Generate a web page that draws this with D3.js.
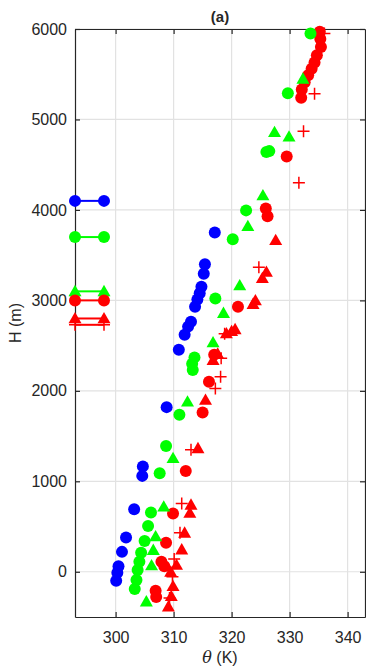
<!DOCTYPE html>
<html>
<head>
<meta charset="utf-8">
<script src="https://cdn.jsdelivr.net/npm/d3@7"></script>
<style>
  html, body { margin: 0; padding: 0; background: #fff; }
  svg { display: block; }
  text { font-family: "Liberation Sans", Arial, sans-serif; fill: #262626; }
</style>
</head>
<body>
<div id="chart"></div>
<script>
// Potential temperature profiles (theta in K, height H in m)
const blueCircles = [
  [300.1,-100],[300.3,-10],[300.5,60],[301.1,220],[301.8,380],[303.2,690],
  [304.6,1060],[304.7,1165],[308.8,1820],[310.9,2455],[311.9,2620],[312.5,2710],
  [313.0,2765],[313.7,2930],[314.1,3010],[314.5,3080],[314.8,3150],[315.2,3295],
  [315.4,3400],[317.1,3750]
];
const greenCircles = [
  [303.3,-190],[303.6,-90],[303.8,20],[304.1,110],[304.4,210],[305.0,340],
  [305.6,505],[306.1,655],[307.6,1090],[308.7,1390],[311.0,1735],[313.3,2230],
  [313.2,2300],[313.6,2370],[317.2,3020],[320.2,3675],[322.5,3995],[326.0,4640],
  [326.5,4650],[329.7,5290],[333.6,5950]
];
const greenTriangles = [
  [305.3,-330],[306.2,70],[306.5,240],[306.9,390],[308.3,720],[309.9,1255],
  [312.4,1880],[316.8,2535],[318.6,2860],[321.4,3165],[322.8,3820],[325.4,4160],
  [327.4,4860],[329.9,4810],[332.3,5450]
];
const redCircles = [
  [307.0,-280],[306.9,-210],[307.9,110],[308.4,60],[308.7,320],[309.9,645],
  [312.1,1115],[315.0,1760],[316.1,2100],[317.0,2400],[321.1,2930],[325.9,4015],
  [326.2,3930],[329.5,4590],[332.0,5240],[332.1,5330],[332.6,5410],[333.2,5490],
  [333.8,5560],[334.3,5630],[334.7,5710],[335.4,5800],[335.3,5890],[335.2,5970]
];
const redTriangles = [
  [309.1,-385],[309.6,-270],[309.9,-160],[309.5,0],[310.5,75],[311.4,245],
  [311.9,430],[312.8,650],[313.0,740],[314.2,1365],[315.5,1900],[316.8,2340],
  [317.6,2410],[319.1,2635],[320.0,2660],[320.6,2680],[323.7,2960],[324.1,3000],
  [325.3,3245],[326.0,3315],[327.6,3665]
];
const redPlus = [
  [309.3,-290],[309.8,-55],[310.1,140],[311.1,430],[311.4,755],[313.0,1350],
  [317.2,2025],[318.1,2155],[318.2,2360],[318.8,2630],[324.7,3365],[331.6,4300],
  [332.4,4870],[334.3,5285],[336.0,5950]
];

// Boundary-layer heights, drawn as short segments at the left edge
const blhTheta = [293, 298];
const blhSeries = [
  { color: "#0000ff", marker: "circle",   h: 4100 },
  { color: "#00ff00", marker: "circle",   h: 3700 },
  { color: "#00ff00", marker: "triangle", h: 3100 },
  { color: "#ff0000", marker: "circle",   h: 3000 },
  { color: "#ff0000", marker: "triangle", h: 2800 },
  { color: "#ff0000", marker: "plus",     h: 2730 }
];

const xTicks = [300, 310, 320, 330, 340];
const yTicks = [0, 1000, 2000, 3000, 4000, 5000, 6000];

const W = 366, H = 671;
const m = { left: 75, right: 1, top: 29, bottom: 54 };

const svg = d3.select("#chart").append("svg").attr("width", W).attr("height", H);
svg.append("rect").attr("width", W).attr("height", H).attr("fill", "#fff");

const x = d3.scaleLinear().domain([293, 343]).range([m.left, W - m.right]);
const y = d3.scaleLinear().domain([-500, 6000]).range([H - m.bottom, m.top]);

const axisColor = "#262626";
const fmt = d3.format("d");

// grid
const grid = svg.append("g");
grid.selectAll(".gx").data(xTicks).join("line")
  .attr("x1", d => x(d)).attr("x2", d => x(d))
  .attr("y1", y.range()[0]).attr("y2", y.range()[1])
  .attr("stroke", "#e2e2e2").attr("stroke-width", 1.2);
grid.selectAll(".gy").data(yTicks).join("line")
  .attr("y1", d => y(d)).attr("y2", d => y(d))
  .attr("x1", x.range()[0]).attr("x2", x.range()[1])
  .attr("stroke", "#e2e2e2").attr("stroke-width", 1.2);

// axes (ticks inward, mirrored on the box)
function styleAxis(g) {
  g.selectAll("path").attr("stroke", axisColor).attr("stroke-width", 1.2);
  g.selectAll("line").attr("stroke", axisColor).attr("stroke-width", 1.2);
  g.selectAll("text").attr("fill", "#333")
    .style("font-family", '"Liberation Sans", Arial, sans-serif')
    .style("font-size", "16px");
}
const xAxis = svg.append("g").attr("transform", `translate(0,${y.range()[0]})`)
  .call(d3.axisBottom(x).tickValues(xTicks).tickFormat(fmt).tickSizeInner(-5).tickSizeOuter(0).tickPadding(15));
styleAxis(xAxis);
const xAxisTop = svg.append("g").attr("transform", `translate(0,${y.range()[1]})`)
  .call(d3.axisTop(x).tickValues(xTicks).tickSizeInner(-5).tickSizeOuter(0).tickFormat(""));
styleAxis(xAxisTop);
const yAxis = svg.append("g").attr("transform", `translate(${x.range()[0]},0)`)
  .call(d3.axisLeft(y).tickValues(yTicks).tickFormat(fmt).tickSizeInner(-5).tickSizeOuter(0).tickPadding(8));
styleAxis(yAxis);
const yAxisRight = svg.append("g").attr("transform", `translate(${x.range()[1]},0)`)
  .call(d3.axisRight(y).tickValues(yTicks).tickSizeInner(-5).tickSizeOuter(0).tickFormat(""));
styleAxis(yAxisRight);

// markers
const R = 6;
function drawMarker(g, type, color, px, py) {
  if (type === "circle") {
    g.append("circle").attr("cx", px).attr("cy", py).attr("r", R).attr("fill", color);
  } else if (type === "triangle") {
    const h = 6.5;
    g.append("path")
      .attr("d", `M${px},${py - h}L${px + h},${py + h * 0.75}L${px - h},${py + h * 0.75}Z`)
      .attr("fill", color);
  } else {
    g.append("path")
      .attr("d", `M${px - 6},${py}H${px + 6}M${px},${py - 6}V${py + 6}`)
      .attr("stroke", color).attr("stroke-width", 1.5).attr("fill", "none");
  }
}

const marks = svg.append("g");
const layers = [
  [redPlus, "plus", "#ff0000"],
  [redTriangles, "triangle", "#ff0000"],
  [redCircles, "circle", "#ff0000"],
  [blueCircles, "circle", "#0000ff"],
  [greenCircles, "circle", "#00ff00"],
  [greenTriangles, "triangle", "#00ff00"]
];
layers.forEach(([data, type, color]) => {
  data.forEach(d => drawMarker(marks, type, color, x(d[0]), y(d[1])));
});

// boundary-layer segments
const blh = svg.append("g");
blhSeries.forEach(s => {
  blh.append("line")
    .attr("x1", x(blhTheta[0])).attr("x2", x(blhTheta[1]))
    .attr("y1", y(s.h)).attr("y2", y(s.h))
    .attr("stroke", s.color).attr("stroke-width", 2);
  blhTheta.forEach(t => drawMarker(blh, s.marker, s.color, x(t), y(s.h)));
});

// labels
svg.append("text").attr("x", (x.range()[0] + x.range()[1]) / 2).attr("y", 22)
  .attr("text-anchor", "middle").style("font-size", "15px").style("font-weight", "bold")
  .text("(a)");

const xl = svg.append("text").attr("x", (x.range()[0] + x.range()[1]) / 2).attr("y", 663)
  .attr("text-anchor", "middle").style("font-size", "16px").attr("fill", "#333");
xl.append("tspan").style("font-style", "italic").style("font-family", '"DejaVu Serif", serif').text("θ");
xl.append("tspan").text(" (K)");

svg.append("text")
  .attr("transform", `translate(21,${(y.range()[0] + y.range()[1]) / 2}) rotate(-90)`)
  .attr("text-anchor", "middle").style("font-size", "16px").attr("fill", "#333")
  .text("H (m)");
</script>
</body>
</html>
